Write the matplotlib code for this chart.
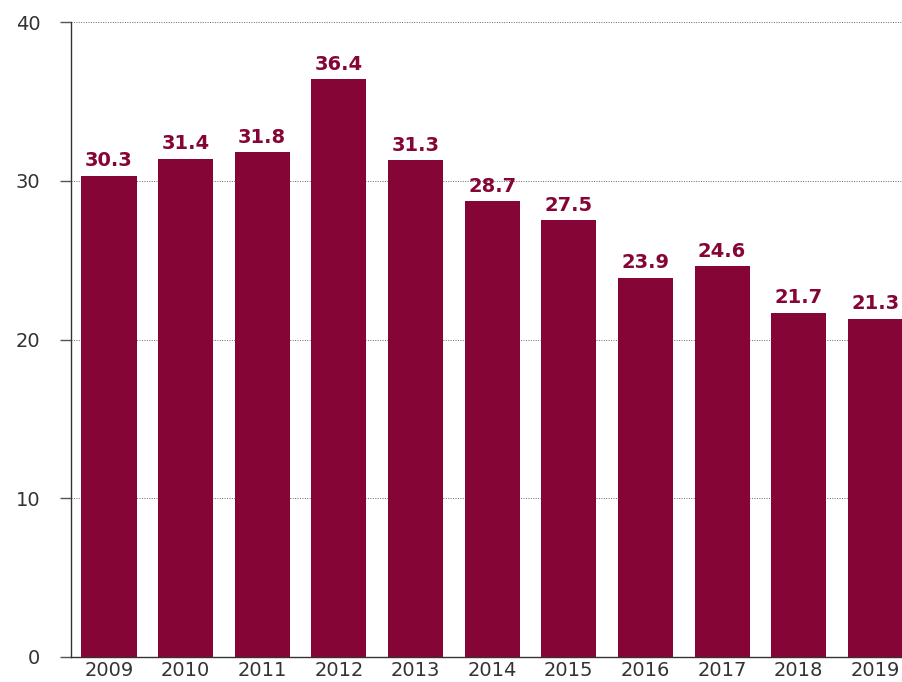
import matplotlib
matplotlib.use("Agg")
import matplotlib.pyplot as plt

years = ["2009", "2010", "2011", "2012", "2013", "2014", "2015", "2016", "2017", "2018", "2019"]
values = [30.3, 31.4, 31.8, 36.4, 31.3, 28.7, 27.5, 23.9, 24.6, 21.7, 21.3]
yticks = [0, 10, 20, 30, 40]

bar_color = "#860537"

fig = plt.figure(figsize=(9.03, 6.82), dpi=100)
ax = fig.add_axes([71 / 903, 25 / 682, 1 - 71 / 903, 635 / 682])

x = list(range(len(years)))
ax.bar(x, values, width=0.72, color=bar_color, zorder=3)

for xi, v in zip(x, values):
    ax.annotate(f"{v:.1f}", (xi, v), xytext=(0, 4), textcoords="offset points",
                ha="center", va="bottom", fontsize=14, fontweight="bold",
                color=bar_color, zorder=4)

ax.set_ylim(0, 40)
ax.set_xlim(-0.495, 10.36)
ax.set_yticks(yticks)
ax.set_xticks(x)
ax.set_xticklabels(years)

ax.yaxis.grid(True, linestyle=(0, (1, 1.5)), color="#666666", linewidth=0.7, zorder=0)
ax.xaxis.grid(False)

for side in ["top", "right"]:
    ax.spines[side].set_visible(False)
ax.spines["left"].set_color("#333333")
ax.spines["bottom"].set_color("#333333")
ax.spines["left"].set_linewidth(1.0)
ax.spines["bottom"].set_linewidth(1.0)

ax.tick_params(axis="y", direction="out", length=8, width=1, color="#555555",
               labelsize=14, labelcolor="#333333", pad=14)
ax.tick_params(axis="x", length=0, labelsize=14, labelcolor="#333333", pad=3)

fig.savefig("out.png", dpi=100)
